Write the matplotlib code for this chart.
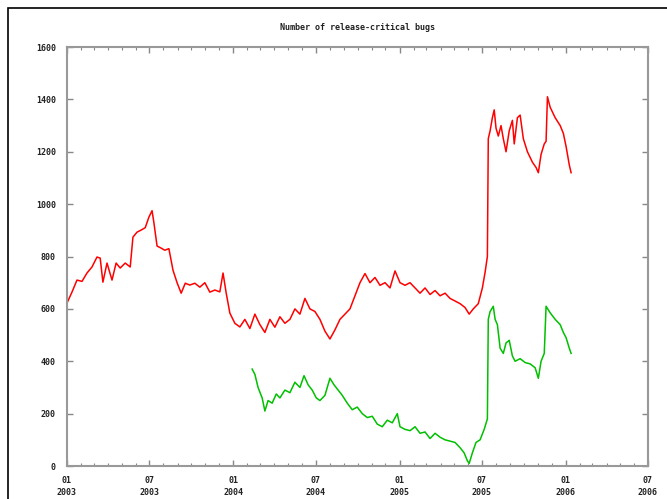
import numpy as np
import matplotlib
matplotlib.use("Agg")
import matplotlib.pyplot as plt
import matplotlib.dates as mdates
from matplotlib.patches import Rectangle

# red: all release-critical bugs
red_dates = [
    "2003-01-01", "2003-01-12", "2003-01-23", "2003-02-03", "2003-02-14", "2003-02-25",
    "2003-03-08", "2003-03-15", "2003-03-21", "2003-03-30", "2003-04-10", "2003-04-19",
    "2003-04-28", "2003-05-09", "2003-05-20", "2003-05-26", "2003-06-04", "2003-06-13",
    "2003-06-22", "2003-06-30", "2003-07-07", "2003-07-11", "2003-07-18", "2003-07-27",
    "2003-08-04", "2003-08-13", "2003-08-22", "2003-08-31", "2003-09-09", "2003-09-18",
    "2003-09-28", "2003-10-09", "2003-10-20", "2003-10-31", "2003-11-11", "2003-11-22",
    "2003-12-03", "2003-12-10", "2003-12-17", "2003-12-25", "2004-01-05", "2004-01-16",
    "2004-01-27", "2004-02-07", "2004-02-18", "2004-02-29", "2004-03-11", "2004-03-22",
    "2004-04-02", "2004-04-13", "2004-04-24", "2004-05-05", "2004-05-16", "2004-05-27",
    "2004-06-07", "2004-06-18", "2004-06-29", "2004-07-10", "2004-07-21", "2004-08-01",
    "2004-08-12", "2004-08-23", "2004-09-03", "2004-09-14", "2004-09-25", "2004-10-06",
    "2004-10-17", "2004-10-28", "2004-11-08", "2004-11-19", "2004-11-30", "2004-12-11",
    "2004-12-22", "2005-01-02", "2005-01-13", "2005-01-24", "2005-02-04", "2005-02-15",
    "2005-02-26", "2005-03-09", "2005-03-20", "2005-03-31", "2005-04-11", "2005-04-22",
    "2005-05-03", "2005-05-14", "2005-05-25", "2005-06-03", "2005-06-12", "2005-06-23",
    "2005-07-02", "2005-07-08", "2005-07-13", "2005-07-15", "2005-07-19", "2005-07-24",
    "2005-07-28", "2005-08-01", "2005-08-06", "2005-08-12", "2005-08-17", "2005-08-23",
    "2005-08-30", "2005-09-06", "2005-09-10", "2005-09-17", "2005-09-23", "2005-09-30",
    "2005-10-09", "2005-10-20", "2005-10-28", "2005-11-02", "2005-11-08", "2005-11-15",
    "2005-11-19", "2005-11-22", "2005-11-28", "2005-12-09", "2005-12-20", "2005-12-27",
    "2006-01-02", "2006-01-09", "2006-01-13",
]
red_bugs = [
    622, 664, 710, 705, 737, 760,
    798, 794, 702, 775, 710, 775,
    756, 775, 760, 874, 893, 901,
    910, 950, 975, 930, 840, 832,
    824, 830, 748, 700, 660, 698,
    691, 698, 683, 700, 664, 672,
    665, 737, 660, 584, 545, 531,
    560, 525, 580, 540, 510, 560,
    530, 570, 545, 560, 600, 580,
    640, 600, 590, 560, 515, 485,
    520, 560, 580, 600, 650, 700,
    735, 700, 720, 690, 700, 680,
    745, 700, 690, 700, 680, 660,
    680, 655, 670, 650, 660, 640,
    630, 620, 605, 580, 600, 620,
    680, 740, 800, 1250, 1280, 1330,
    1360, 1290, 1260, 1300, 1250, 1200,
    1280, 1320, 1230, 1330, 1340, 1250,
    1200, 1160, 1140, 1120, 1190, 1230,
    1240, 1410, 1370, 1330, 1300, 1270,
    1220, 1150, 1120,
]

# green: bugs affecting the release
green_dates = [
    "2004-02-12", "2004-02-18", "2004-02-25", "2004-03-05", "2004-03-11", "2004-03-18",
    "2004-03-27", "2004-04-05", "2004-04-13", "2004-04-24", "2004-05-05", "2004-05-16",
    "2004-05-27", "2004-06-05", "2004-06-14", "2004-06-23", "2004-07-02", "2004-07-10",
    "2004-07-21", "2004-08-01", "2004-08-10", "2004-08-19", "2004-08-28", "2004-09-08",
    "2004-09-19", "2004-09-30", "2004-10-11", "2004-10-22", "2004-11-02", "2004-11-13",
    "2004-11-24", "2004-12-05", "2004-12-16", "2004-12-27", "2005-01-02", "2005-01-13",
    "2005-01-24", "2005-02-04", "2005-02-15", "2005-02-26", "2005-03-09", "2005-03-20",
    "2005-03-31", "2005-04-11", "2005-04-22", "2005-05-03", "2005-05-14", "2005-05-23",
    "2005-05-30", "2005-06-03", "2005-06-10", "2005-06-18", "2005-06-27", "2005-07-06",
    "2005-07-13", "2005-07-15", "2005-07-19", "2005-07-26", "2005-07-30", "2005-08-04",
    "2005-08-10", "2005-08-17", "2005-08-23", "2005-08-30", "2005-09-06", "2005-09-12",
    "2005-09-23", "2005-10-04", "2005-10-15", "2005-10-26", "2005-11-02", "2005-11-08",
    "2005-11-15", "2005-11-19", "2005-11-28", "2005-12-09", "2005-12-20", "2005-12-27",
    "2006-01-02", "2006-01-09", "2006-01-13",
]
green_bugs = [
    370, 350, 300, 260, 210, 250,
    240, 275, 260, 290, 280, 320,
    300, 345, 310, 290, 260, 250,
    270, 335, 310, 290, 270, 240,
    215, 225, 200, 185, 190, 160,
    150, 175, 165, 200, 150, 140,
    135, 150, 125, 130, 105, 125,
    110, 100, 95, 90, 70, 50,
    20, 10, 50, 90, 100, 140,
    180, 560, 590, 610, 560, 540,
    450, 430, 470, 480, 420, 400,
    410, 395, 390, 375, 335, 400,
    430, 610, 585, 560, 540, 510,
    490, 450, 430,
]

x_ticks = ["2003-01-01", "2003-07-01", "2004-01-01", "2004-07-01",
           "2005-01-01", "2005-07-01", "2006-01-01", "2006-07-01"]
y_ticks = [0, 200, 400, 600, 800, 1000, 1200, 1400, 1600]

fig = plt.figure(figsize=(6.67, 4.99), dpi=100)
ax = fig.add_axes([0.1004, 0.0661, 0.8711, 0.8397])

# outer black frame of the screenshot
fig.patches.append(Rectangle((8 / 667, -0.05), 1.1, 1 - 8 / 499 + 0.05,
                             transform=fig.transFigure, fill=False,
                             edgecolor="black", linewidth=1.2))

rd = np.array(red_dates, dtype="datetime64[D]")
gd = np.array(green_dates, dtype="datetime64[D]")
ax.plot(rd, red_bugs, color="#ff0000", lw=1.1)
ax.plot(gd, green_bugs, color="#00c000", lw=1.1)

xt = np.array(x_ticks, dtype="datetime64[D]")
ax.set_xlim(xt[0], xt[-1])
ax.set_ylim(0, 1600)
ax.set_xticks(xt)
ax.set_xticklabels([d[5:7] + "\n" + d[:4] for d in x_ticks], linespacing=1.5)
ax.xaxis.set_minor_locator(mdates.MonthLocator())
ax.set_yticks(y_ticks)

mono = dict(family="DejaVu Sans Mono", size=6, weight="bold")
for lab in ax.get_xticklabels() + ax.get_yticklabels():
    lab.set_fontfamily(mono["family"])
    lab.set_fontsize(mono["size"])
    lab.set_fontweight(mono["weight"])
    lab.set_color("#222222")

ax.tick_params(which="both", direction="in", top=True, right=True, color="#888888")
ax.tick_params(which="major", length=4, width=1)
ax.tick_params(which="minor", length=2, width=0.8)
ax.tick_params(axis="x", which="major", pad=7)
ax.tick_params(axis="y", which="major", pad=8)
for s in ax.spines.values():
    s.set_color("#999999")
    s.set_linewidth(1.5)

fig.text(0.5 * (0.1004 + 0.9715), 1 - 28 / 499, "Number of release-critical bugs",
         ha="center", va="center", color="#222222", **mono)

fig.savefig("out.png", dpi=100)
